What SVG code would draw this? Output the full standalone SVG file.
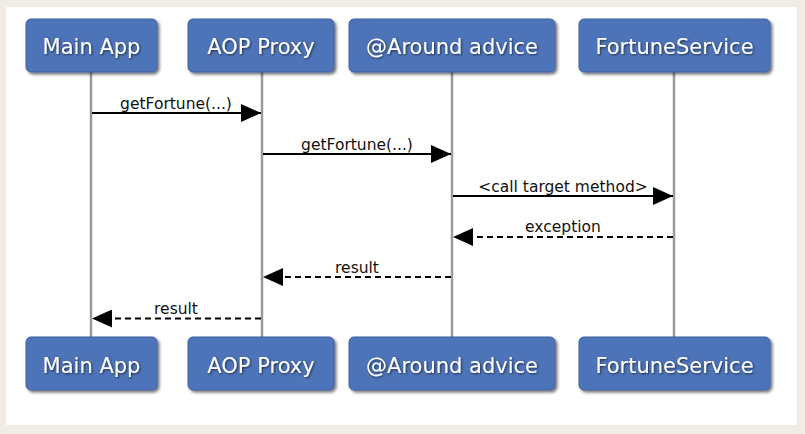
<svg xmlns="http://www.w3.org/2000/svg" width="805" height="434" viewBox="0 0 805 434">
<defs>
<filter id="boxShadow" x="-10%" y="-20%" width="130%" height="150%">
<feDropShadow dx="2" dy="2" stdDeviation="1.5" flood-color="#000" flood-opacity="0.55"/>
</filter>
<filter id="txtShadow" x="-10%" y="-30%" width="120%" height="160%">
<feDropShadow dx="1" dy="1" stdDeviation="0.8" flood-color="#000" flood-opacity="0.6"/>
</filter>
<marker id="arrow" viewBox="0 0 20 18" refX="20" refY="9" markerWidth="20" markerHeight="18" markerUnits="userSpaceOnUse" orient="auto">
<path d="M0,0 L20,9 L0,18 Z" fill="#000"/>
</marker>
<style>
.box{fill:#4d73b8;stroke:#3f62a3;stroke-width:1;filter:url(#boxShadow)}
.lbl{font-family:"DejaVu Sans",Verdana,sans-serif;font-size:21px;fill:#fff;text-anchor:middle;filter:url(#txtShadow)}
.life{stroke:#9a9a9a;stroke-width:2.5}
.msg{stroke:#000;stroke-width:2;fill:none;marker-end:url(#arrow)}
.ret{stroke-dasharray:6,4}
.mt{font-family:"DejaVu Sans",Verdana,sans-serif;font-size:15.5px;fill:#111;text-anchor:middle}
</style>
</defs>
<rect x="0" y="0" width="805" height="434" fill="#f1ece3"/>
<rect x="6" y="7" width="791" height="418" fill="#fff"/>
<g id="lifelines">
<line class="life" x1="91" y1="72" x2="91" y2="337"/>
<line class="life" x1="262" y1="72" x2="262" y2="337"/>
<line class="life" x1="452" y1="72" x2="452" y2="337"/>
<line class="life" x1="674" y1="72" x2="674" y2="337"/>
</g>
<g id="node-mainapp-top"><rect class="box" x="26" y="19" width="131" height="53" rx="5"/><text class="lbl" x="91.5" y="54">Main App</text></g>
<g id="node-aopproxy-top"><rect class="box" x="188" y="19" width="146" height="53" rx="5"/><text class="lbl" x="261" y="54">AOP Proxy</text></g>
<g id="node-around-top"><rect class="box" x="349" y="19" width="206" height="53" rx="5"/><text class="lbl" x="452" y="54">@Around advice</text></g>
<g id="node-fortune-top"><rect class="box" x="579" y="19" width="191" height="53" rx="5"/><text class="lbl" x="674.5" y="54">FortuneService</text></g>
<g id="node-mainapp-bottom"><rect class="box" x="26" y="337" width="131" height="53" rx="5"/><text class="lbl" x="91.5" y="373">Main App</text></g>
<g id="node-aopproxy-bottom"><rect class="box" x="188" y="337" width="146" height="53" rx="5"/><text class="lbl" x="261" y="373">AOP Proxy</text></g>
<g id="node-around-bottom"><rect class="box" x="349" y="337" width="206" height="53" rx="5"/><text class="lbl" x="452" y="373">@Around advice</text></g>
<g id="node-fortune-bottom"><rect class="box" x="579" y="337" width="191" height="53" rx="5"/><text class="lbl" x="674.5" y="373">FortuneService</text></g>
<g id="connectors">
<line class="msg" x1="92" y1="113" x2="261" y2="113"/>
<text class="mt" x="176" y="109">getFortune(...)</text>
<line class="msg" x1="263" y1="154" x2="451" y2="154"/>
<text class="mt" x="357" y="150">getFortune(...)</text>
<line class="msg" x1="453" y1="196" x2="673" y2="196"/>
<text class="mt" x="563" y="192">&lt;call target method&gt;</text>
<line class="msg ret" x1="673" y1="237" x2="453" y2="237"/>
<text class="mt" x="563" y="232">exception</text>
<line class="msg ret" x1="451" y1="277" x2="263" y2="277"/>
<text class="mt" x="357" y="273">result</text>
<line class="msg ret" x1="261" y1="318.5" x2="92" y2="318.5"/>
<text class="mt" x="176" y="314">result</text>
</g>
</svg>
